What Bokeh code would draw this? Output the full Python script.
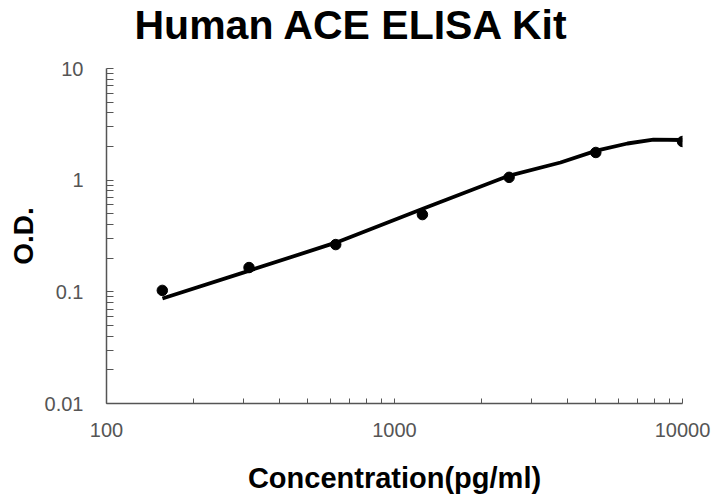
from bokeh.plotting import figure
from bokeh.models import FixedTicker, ColumnDataSource, Label
from bokeh.embed import file_html
from bokeh.resources import INLINE

# Standard points (concentration pg/ml, O.D.)
conc = [156.25, 312.5, 625, 1250, 2500, 5000, 10000]
od = [0.103, 0.165, 0.265, 0.492, 1.06, 1.77, 2.22]

# Fitted curve
curve_conc = [156.4, 313.7, 628.9, 1261, 2507, 3771, 5028, 6442, 7925, 10000]
curve_od = [0.0871, 0.155, 0.277, 0.557, 1.10, 1.44, 1.84, 2.13, 2.31, 2.29]

x_major = [100, 1000, 10000]
x_minor = [200, 300, 400, 500, 600, 700, 800, 900,
           2000, 3000, 4000, 5000, 6000, 7000, 8000, 9000]
y_major = [0.01, 0.1, 1, 10]
y_minor = [0.02, 0.03, 0.04, 0.05, 0.06, 0.07, 0.08, 0.09,
           0.2, 0.3, 0.4, 0.5, 0.6, 0.7, 0.8, 0.9,
           2, 3, 4, 5, 6, 7, 8, 9]
y_labels = {0.01: "0.01", 0.1: "0.1", 1: "1", 10: "10"}
title_text = "Human ACE ELISA Kit"

FONT = "Liberation Sans"
AXIS_COLOR = "#555555"

p = figure(width=714, height=496, x_axis_type="log", y_axis_type="log",
           x_range=(100, 10000), y_range=(0.01, 10),
           output_backend="svg", toolbar_location=None,
           min_border_left=106, min_border_right=32,
           min_border_top=68, min_border_bottom=93)

# Chart title, placed in the panel above the plot area
p.add_layout(Label(x=28, y=44, x_units="screen", y_units="screen",
                   text=title_text, text_font=FONT, text_font_size="41px",
                   text_font_style="bold", text_color="black",
                   text_baseline="alphabetic", text_align="left"), "above")

p.grid.visible = False
p.outline_line_color = None
p.background_fill_color = "white"
p.border_fill_color = "white"

src_c = ColumnDataSource(dict(x=curve_conc, y=curve_od))
src_p = ColumnDataSource(dict(x=conc, y=od))
p.line("x", "y", source=src_c, line_color="black", line_width=3.8)
p.scatter("x", "y", source=src_p, size=10.5, fill_color="black", line_color="black")

p.xaxis.ticker = FixedTicker(ticks=x_major, minor_ticks=x_minor)
p.yaxis.ticker = FixedTicker(ticks=y_major, minor_ticks=y_minor)
p.xaxis.major_label_overrides = {100: "100", 1000: "1000", 10000: "10000"}
p.yaxis.major_label_overrides = y_labels

for ax in (p.xaxis[0], p.yaxis[0]):
    ax.axis_line_color = AXIS_COLOR
    ax.axis_line_width = 1.5
    ax.major_tick_line_color = AXIS_COLOR
    ax.minor_tick_line_color = AXIS_COLOR
    ax.major_tick_out = 0
    ax.minor_tick_out = 0
    ax.major_label_text_font = FONT
    ax.major_label_text_font_size = "20px"
    ax.major_label_text_color = "#555555"
    ax.axis_label_text_font = FONT
    ax.axis_label_text_font_style = "bold"
    ax.axis_label_text_color = "black"

p.xaxis.major_tick_in = 5
p.xaxis.minor_tick_in = 5
p.yaxis.major_tick_in = 7
p.yaxis.minor_tick_in = 7
p.xaxis.major_label_standoff = 19
p.yaxis.major_label_standoff = 23

p.xaxis.axis_label = "Concentration(pg/ml)"
p.xaxis.axis_label_text_font_size = "29px"
p.xaxis.axis_label_standoff = 22
p.yaxis.axis_label = "O.D."
p.yaxis.axis_label_text_font_size = "28px"
p.yaxis.axis_label_standoff = 3

open("out.html", "w").write(file_html(p, INLINE))
